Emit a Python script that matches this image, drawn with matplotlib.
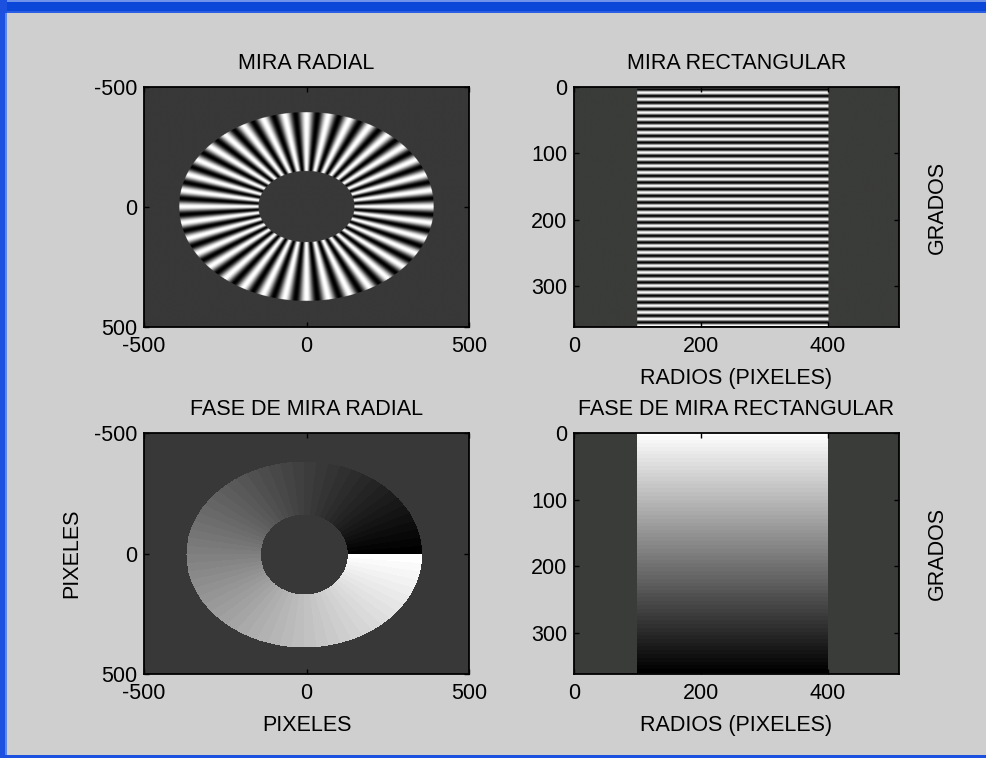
import numpy as np
import matplotlib
matplotlib.use("Agg")
import matplotlib.pyplot as plt
from matplotlib.patches import Rectangle

# ---- pattern parameters -------------------------------------------------
N_SPOKES = 36                       # cycles of the star pattern per turn
RADIAL_RADII = [148, 392]           # inner / outer radius of the star (pixels)
PHASE_RX = [134, 363]               # phase ring, horizontal semi-axes
PHASE_RY = [166, 386]               # phase ring, vertical semi-axes
PHASE_CENTER = [-7, 4]              # phase ring centre
RECT_RADII = [100, 400]             # radius band of the unwrapped pattern
RECT_COLUMNS = 512                  # radius samples (0..511)
RECT_DEGREES = 360                  # angle samples (0..360)
GRAY_LEVELS = 64

# ---- axis ticks and text -------------------------------------------------
XY_TICKS = [-500, 0, 500]
RADIO_TICKS = [0, 200, 400]
GRADO_TICKS = [0, 100, 200, 300]
TITLES = ["MIRA RADIAL", "MIRA RECTANGULAR",
          "FASE DE MIRA RADIAL", "FASE DE MIRA RECTANGULAR"]
XLABEL_PIX = "PIXELES"
XLABEL_RAD = "RADIOS (PIXELES)"
YLABEL_PIX = "PIXELES"
YLABEL_DEG = "GRADOS"

FIG_BG = "#cfcfcf"
DARK_LEFT = "#383838"
DARK_RIGHT = "#3a3c39"

plt.rcParams["font.family"] = ["Liberation Sans", "DejaVu Sans"]
plt.rcParams["axes.unicode_minus"] = False
FS = 15.5

# ---- images --------------------------------------------------------------
coords = np.linspace(-500, 500, 1001)
X, Y = np.meshgrid(coords, coords)          # row 0 is y = -500 (top)

r = np.hypot(X, Y)
theta = np.arctan2(Y, X)
star = np.cos(N_SPOKES * theta)
star = np.ma.masked_where((r < RADIAL_RADII[0]) | (r > RADIAL_RADII[1]), star)

Xc = X - PHASE_CENTER[0]
Yc = Y - PHASE_CENTER[1]
rho_out = np.hypot(Xc / PHASE_RX[1], Yc / PHASE_RY[1])
rho_in = np.hypot(Xc / PHASE_RX[0], Yc / PHASE_RY[0])
phi = np.mod(np.arctan2(Yc, Xc), 2 * np.pi)
phase = 2 * np.pi - phi
phase = np.ma.masked_where((rho_in < 1) | (rho_out > 1), phase)

radius = np.arange(RECT_COLUMNS)
degrees = np.arange(RECT_DEGREES + 1)
RR, DD = np.meshgrid(radius, degrees)
band = (RR < RECT_RADII[0]) | (RR > RECT_RADII[1])
rect = np.ma.masked_where(band, np.cos(N_SPOKES * np.deg2rad(DD)))
rect_phase = np.ma.masked_where(band, 2 * np.pi - np.deg2rad(DD))


def gray_cmap(bad):
    cm = plt.get_cmap("gray", GRAY_LEVELS).copy()
    cm.set_bad(bad)
    return cm


# ---- figure ----------------------------------------------------------------
W, H = 987, 758
fig = plt.figure(figsize=(W / 100, H / 100), dpi=100, facecolor=FIG_BG)


def px_axes(x0, y0, x1, y1):
    return fig.add_axes([x0 / W, 1 - y1 / H, (x1 - x0) / W, (y1 - y0) / H])


ax_tl = px_axes(144, 87, 469, 327)
ax_tr = px_axes(574, 87, 899, 327)
ax_bl = px_axes(144, 433, 469, 674)
ax_br = px_axes(574, 433, 899, 674)

ext_xy = (-500, 500, 500, -500)
ax_tl.imshow(star, cmap=gray_cmap(DARK_LEFT), extent=ext_xy, aspect="auto",
             vmin=-1, vmax=1, interpolation="antialiased")
ax_bl.imshow(phase, cmap=gray_cmap(DARK_LEFT), extent=ext_xy, aspect="auto",
             vmin=0, vmax=2 * np.pi, interpolation="nearest")

ext_rect = (-0.5, RECT_COLUMNS - 0.5, RECT_DEGREES + 0.5, -0.5)
ax_tr.imshow(rect, cmap=gray_cmap(DARK_RIGHT), extent=ext_rect, aspect="auto",
             vmin=-1, vmax=1, interpolation="antialiased")
ax_br.imshow(rect_phase, cmap=gray_cmap(DARK_RIGHT), extent=ext_rect,
             aspect="auto", vmin=0, vmax=2 * np.pi, interpolation="nearest")

for ax in (ax_tl, ax_bl):
    ax.set_xlim(-500, 500)
    ax.set_ylim(500, -500)
    ax.set_xticks(XY_TICKS)
    ax.set_yticks(XY_TICKS)
    ax.set_facecolor(DARK_LEFT)

for ax in (ax_tr, ax_br):
    ax.set_xlim(0, RECT_COLUMNS)
    ax.set_ylim(362, 0)
    ax.set_xticks(RADIO_TICKS)
    ax.set_yticks(GRADO_TICKS)
    ax.set_facecolor(DARK_RIGHT)
    ax.set_xlabel(XLABEL_RAD, fontsize=FS, labelpad=8)
    ax.yaxis.set_label_position("right")
    ax.set_ylabel(YLABEL_DEG, fontsize=FS, labelpad=20)

ax_bl.set_xlabel(XLABEL_PIX, fontsize=FS, labelpad=8)
ax_bl.set_ylabel(YLABEL_PIX, fontsize=FS, labelpad=8)

for ax, title in zip((ax_tl, ax_tr, ax_bl, ax_br), TITLES):
    ax.set_title(title, fontsize=FS, pad=13)
    ax.tick_params(direction="in", top=True, right=True, length=3.5,
                   width=1, labelsize=FS)
    ax.tick_params(axis="x", pad=6.5)
    ax.tick_params(axis="y", pad=5)
    for sp in ax.spines.values():
        sp.set_linewidth(1.3)
        sp.set_color("black")

# ---- window frame ----------------------------------------------------------
frame = [
    (0, 0, W, 13, "#0a47d9"),
    (0, 0, W, 2, "#6f93ea"),
    (0, 11, W, 2, "#2a5fe4"),
    (0, 0, 7, H, "#1c50df"),
    (5, 13, 2, H - 13, "#5d86ec"),
    (0, H - 3, W, 3, "#1c50df"),
]
for x, y, w, h, c in frame:
    fig.add_artist(Rectangle((x / W, 1 - (y + h) / H), w / W, h / H,
                             transform=fig.transFigure, facecolor=c,
                             edgecolor="none", zorder=10))

fig.savefig("out.png", dpi=100, facecolor=FIG_BG)
